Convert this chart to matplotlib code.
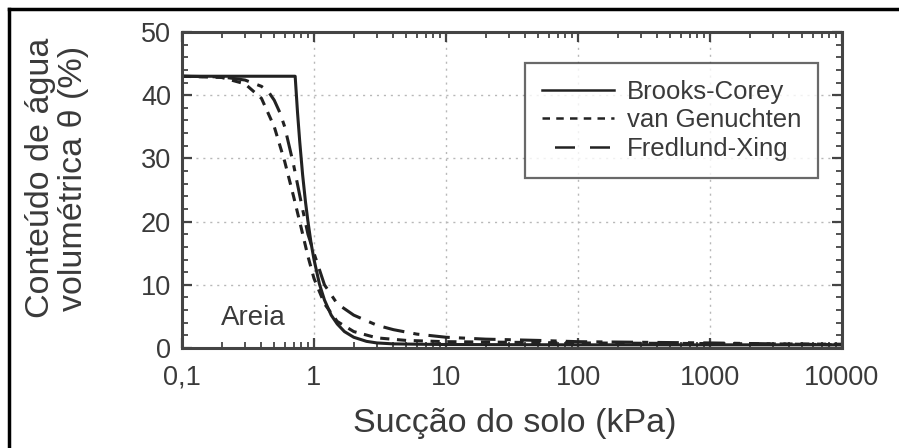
import matplotlib
matplotlib.use("Agg")
import matplotlib.pyplot as plt
from matplotlib.lines import Line2D
from matplotlib.ticker import LogLocator, MultipleLocator, FixedLocator, NullFormatter

plt.rcParams['font.family'] = ['Liberation Sans', 'DejaVu Sans']

# ---- data ----
bc_suction = [0.1, 0.72, 0.75, 0.78, 0.82, 0.86, 0.9, 0.95, 1.0, 1.1, 1.2, 1.35, 1.5, 1.7, 2.0, 2.5, 3.0, 4.0, 6.0, 10, 100, 1000, 10000]
bc_theta   = [43.0, 43.0, 37.3, 32.6, 27.4, 23.3, 20.0, 16.6, 14.0, 10.1, 7.6, 5.2, 3.8, 2.6, 1.7, 1.05, 0.8, 0.65, 0.6, 0.55, 0.5, 0.5, 0.5]

vg_suction = [0.1, 0.2, 0.3, 0.4, 0.5, 0.6, 0.7, 0.8, 0.9, 1.0, 1.2, 1.5, 2.0, 3.0, 5.0, 10, 100, 1000, 10000]
vg_theta   = [43.0, 42.8, 41.8, 39.5, 35.0, 29.5, 24.0, 19.0, 14.5, 11.0, 7.0, 4.2, 2.6, 1.6, 1.2, 1.0, 0.8, 0.7, 0.6]

fx_suction = [0.1, 0.2, 0.3, 0.4, 0.45, 0.5, 0.55, 0.6, 0.7, 0.8, 0.9, 1.0, 1.2, 1.5, 2.0, 3.0, 4.0, 6.0, 10, 20, 50, 100, 1000, 10000]
fx_theta   = [43.0, 42.9, 42.4, 41.4, 40.6, 39.2, 37.3, 35.0, 29.0, 23.0, 18.0, 15.0, 10.0, 7.0, 5.2, 3.6, 2.9, 2.2, 1.7, 1.4, 1.2, 1.0, 0.8, 0.5]

series_labels = ["Brooks-Corey", "van Genuchten", "Fredlund-Xing"]
x_ticks = [0.1, 1, 10, 100, 1000, 10000]
x_ticklabels = ["0,1", "1", "10", "100", "1000", "10000"]
y_ticks = [0, 10, 20, 30, 40, 50]

W, H = 899, 448
txt = '#3a3a3a'
fig = plt.figure(figsize=(W/100, H/100), dpi=100)
ax = fig.add_axes([182/W, 1-348/H, 660/W, 316/H])

ln = '#222222'
ax.plot(bc_suction, bc_theta, color=ln, lw=2.2, ls='-', label=series_labels[0])
ax.plot(vg_suction, vg_theta, color=ln, lw=2.2, ls=(0, (3, 2.5)), label=series_labels[1])
ax.plot(fx_suction, fx_theta, color=ln, lw=2.2, ls=(0, (7, 3, 2, 3)), label=series_labels[2])

ax.set_xscale('log')
ax.set_xlim(0.1, 10000)
ax.set_ylim(0, 50)
ax.xaxis.set_major_locator(FixedLocator(x_ticks))
ax.set_xticklabels(x_ticklabels)
ax.xaxis.set_minor_locator(LogLocator(base=10, subs=range(2, 10), numticks=20))
ax.xaxis.set_minor_formatter(NullFormatter())
ax.set_yticks(y_ticks)
ax.yaxis.set_minor_locator(MultipleLocator(2))

ax.grid(True, which='major', color='#b8b8b8', ls=(0, (1.5, 3.5)), lw=1.0)
ax.tick_params(which='both', direction='in', top=True, right=True, colors='#444444',
               labelcolor=txt, labelsize=19.5)
ax.tick_params(which='major', length=7, width=1.6, pad=8)
ax.tick_params(axis='x', which='major', pad=12)
ax.tick_params(which='minor', length=4, width=1.3)
for s in ax.spines.values():
    s.set_color('#444444')
    s.set_linewidth(2.2)

fig.text(515/W, 1-423/H, "Sucção do solo (kPa)", fontsize=24.5, color=txt,
         ha='center', va='center')
fig.text(57/W, 1-178/H, "Conteúdo de água\nvolumétrica θ (%)", fontsize=24.5, color=txt,
         ha='center', va='center', rotation=90, linespacing=1.05)

ax.text(0.197, 4.75, "Areia", fontsize=20, color=txt, ha='left', va='center')

handles = [Line2D([], [], color=ln, lw=1.8, ls='-'),
           Line2D([], [], color=ln, lw=1.8, ls=(0, (3, 2.5))),
           Line2D([], [], color=ln, lw=1.8, ls=(9, (8, 6)))]
leg = ax.legend(handles, series_labels, loc='upper right', bbox_to_anchor=(0.9636, 0.902),
                borderaxespad=0, fontsize=18.5, frameon=True, fancybox=False, edgecolor='#444444',
                handlelength=2.8, handletextpad=0.5, borderpad=0.65, labelspacing=0.18)
leg.get_frame().set_linewidth(1.6)
for t in leg.get_texts():
    t.set_color(txt)

# figure border (left and top only)
fig.add_artist(Line2D([9/W, 9/W], [0, 1-9/H], transform=fig.transFigure, color='black', lw=2.5))
fig.add_artist(Line2D([9/W, 1], [1-9/H, 1-9/H], transform=fig.transFigure, color='black', lw=2.5))

fig.savefig("out.png", dpi=100)
